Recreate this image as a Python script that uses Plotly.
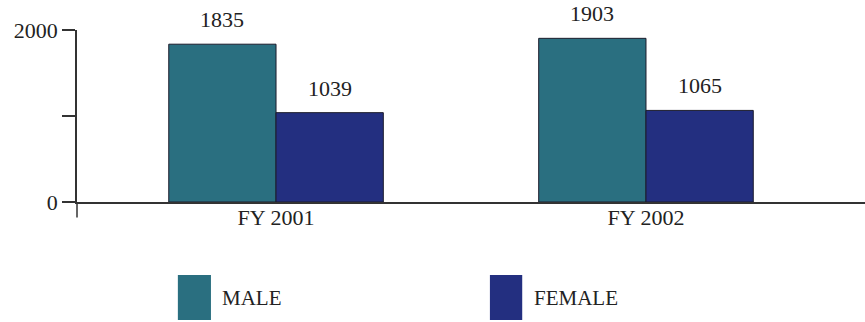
import plotly.graph_objects as go

categories = ["FY 2001", "FY 2002"]
male = [1835, 1903]
female = [1039, 1065]
series_names = ["MALE", "FEMALE"]
tick_vals = [0, 1000, 2000]
tick_text = ["0", "", "2000"]

MALE_C = "#2a6f80"
FEMALE_C = "#232f80"
FONT = "'Liberation Serif', 'DejaVu Serif', 'Times New Roman', serif"
BW = 0.29

xs = list(range(len(categories)))

fig = go.Figure()
fig.add_trace(go.Bar(x=xs, y=male, name=series_names[0], offset=-BW, width=BW,
                     marker=dict(color=MALE_C, line=dict(color="#1c1c2c", width=1))))
fig.add_trace(go.Bar(x=xs, y=female, name=series_names[1], offset=0, width=BW,
                     marker=dict(color=FEMALE_C, line=dict(color="#1c1c2c", width=1))))

annotations = []
for i, v in enumerate(male):
    annotations.append(dict(x=xs[i] - BW / 2, y=v, text=str(v), showarrow=False,
                            yanchor="bottom", yshift=10, font=dict(size=22, color="#222", family=FONT)))
for i, v in enumerate(female):
    annotations.append(dict(x=xs[i] + BW / 2, y=v, text=str(v), showarrow=False,
                            yanchor="bottom", yshift=10, font=dict(size=22, color="#222", family=FONT)))

# legend (large swatches drawn as shapes)
leg = [(0.128, 0.170, 0.181, MALE_C, series_names[0]),
       (0.524, 0.565, 0.578, FEMALE_C, series_names[1])]
shapes = []
for x0, x1, tx, col, name in leg:
    shapes.append(dict(type="rect", xref="paper", yref="paper", x0=x0, x1=x1,
                       y0=-0.686, y1=-0.424, fillcolor=col, line=dict(width=0)))
    annotations.append(dict(xref="paper", yref="paper", x=tx, y=-0.558, text=name,
                            showarrow=False, xanchor="left", yanchor="middle",
                            font=dict(size=21, color="#222", family=FONT)))
# y axis extension below baseline
shapes.append(dict(type="line", xref="paper", yref="paper", x0=0, x1=0, y0=0, y1=-0.09,
                   line=dict(color="#333", width=1.5)))

fig.update_layout(
    width=865, height=322,
    margin=dict(l=77, r=0, t=30, b=120),
    paper_bgcolor="white", plot_bgcolor="white",
    showlegend=False,
    font=dict(family=FONT, size=22, color="#222"),
    annotations=annotations, shapes=shapes,
    xaxis=dict(range=[-0.538, 1.592], tickvals=xs, ticktext=categories,
               showgrid=False, zeroline=False, showline=True, linecolor="#333", linewidth=1.5,
               ticks="", ticklabelstandoff=-5,
               tickfont=dict(size=22, family=FONT, color="#222")),
    yaxis=dict(range=[0, 2000], tickvals=tick_vals, ticktext=tick_text,
               showgrid=False, zeroline=False, showline=True, linecolor="#333", linewidth=1.5,
               ticks="outside", ticklen=13, tickwidth=1.5, tickcolor="#333",
               tickfont=dict(size=22, family=FONT, color="#222")),
)

fig.write_html("out.html")
